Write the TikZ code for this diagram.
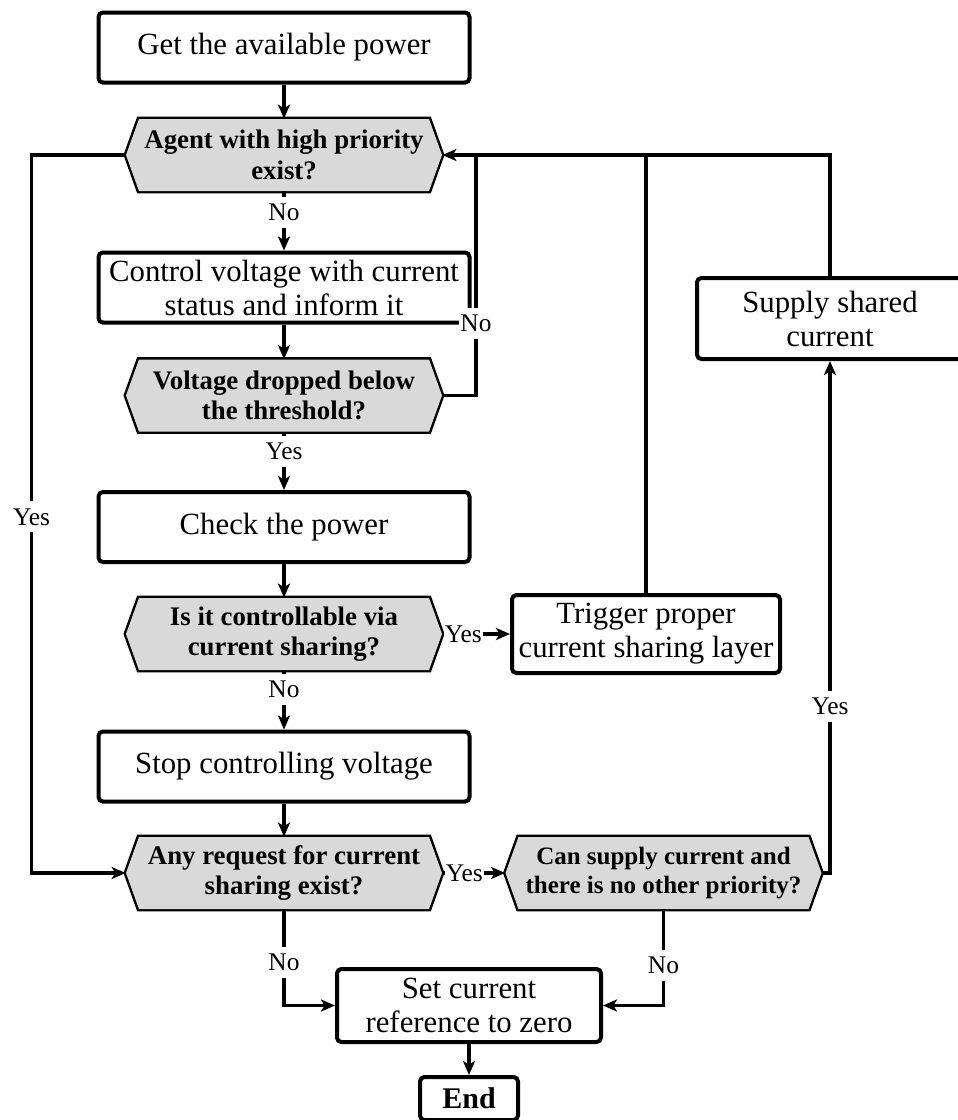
\documentclass[tikz,border=0pt]{standalone}
\usepackage{fontspec}
\setmainfont{Liberation Serif}
\usetikzlibrary{arrows.meta}
\definecolor{decfill}{HTML}{D9D9D9}

% text sizes used in the flowchart
\newcommand\fcBody{\fontsize{15.4pt}{17pt}\selectfont}
\newcommand\fcDec{\bfseries\fontsize{13.4pt}{15.2pt}\selectfont}
\newcommand\fcDecS{\bfseries\fontsize{12.5pt}{14.6pt}\selectfont}
\newcommand\fcLab{\fontsize{12.7pt}{14pt}\selectfont}
\newcommand\fcEnd{\bfseries\fontsize{15pt}{17pt}\selectfont}

\begin{document}
\begin{tikzpicture}[x=0.5pt,y=-0.5pt,
  line/.style={line width=1.7pt},
  arr/.style={line width=1.7pt,-{Stealth[length=7pt,width=6pt,inset=1.8pt]}},
  box/.style={draw,line width=2pt,rounded corners=2.2pt,align=center,inner sep=0pt,
    font=\fcBody,minimum width=185.5pt,minimum height=35pt},
  dec/.style={rectangle,inner sep=0pt,align=center,font=\fcDec,
    minimum width=158pt,minimum height=36pt,
    path picture={\fill[decfill] (path picture bounding box.west)
      -- ([xshift=6.5pt]path picture bounding box.north west)
      -- ([xshift=-6.5pt]path picture bounding box.north east)
      -- (path picture bounding box.east)
      -- ([xshift=-6.5pt]path picture bounding box.south east)
      -- ([xshift=6.5pt]path picture bounding box.south west) -- cycle;},
    append after command={\pgfextra{\draw[line width=2pt,line join=miter]
      (\tikzlastnode.west) -- ([xshift=6.5pt]\tikzlastnode.north west)
      -- ([xshift=-6.5pt]\tikzlastnode.north east) -- (\tikzlastnode.east)
      -- ([xshift=-6.5pt]\tikzlastnode.south east)
      -- ([xshift=6.5pt]\tikzlastnode.south west) -- cycle;}}},
  lab/.style={fill=white,inner xsep=0.6pt,inner ysep=3.5pt,font=\fcLab}
]
\useasboundingbox (0,0) rectangle (958,1120);

% main column
\node[box] (b1) at (284,47.5) {Get the available power};
\node[dec] (d1) at (284,155) {Agent with high priority\\exist?};
\node[box] (b2) at (284,287.5) {Control voltage with current\\status and inform it};
\node[dec] (d2) at (284,395.5) {Voltage dropped below\\the threshold?};
\node[box] (b3) at (284,527) {Check the power};
\node[dec] (d3) at (284,634) {Is it controllable via\\current sharing?};
\node[box] (b4) at (284,766.5) {Stop controlling voltage};
\node[dec] (d4) at (284,873) {Any request for current\\sharing exist?};

% right-hand branch
\node[dec,font=\fcDecS] (d5) at (663.5,873) {Can supply current and\\there is no other priority?};
\node[box,minimum width=134pt,minimum height=39pt] (trg) at (646,634) {Trigger proper\\current sharing layer};
\node[box,minimum width=133pt,minimum height=40.5pt] (sup) at (830,318.5) {Supply shared\\current};

% ending
\node[box,minimum width=132pt,minimum height=36.5pt] (set) at (469,1005.5) {Set current\\reference to zero};
\node[box,minimum width=49pt,minimum height=21.5pt,font=\fcEnd] (end) at (469,1098.5) {End};

% junctions on the feedback line
\coordinate (j1) at (476,155);
\coordinate (j2) at (646,155);

% main flow
\draw[arr] (b1) -- (d1);
\draw[arr] (d1) -- node[lab,pos=0.35]{No} (b2);
\draw[arr] (b2) -- (d2);
\draw[arr] (d2) -- node[lab,pos=0.33]{Yes} (b3);
\draw[arr] (b3) -- (d3);
\draw[arr] (d3) -- node[lab,pos=0.32]{No} (b4);
\draw[arr] (b4) -- (d4);
\draw[arr] (d3.east) -- node[lab,pos=0.31]{Yes} (trg.west);
\draw[arr] (d4.east) -- node[lab,pos=0.35]{Yes} (d5.west);

% feedback to the priority check
\draw[arr] (sup.north) |- (d1.east);
\draw[line] (trg.north) -- (j2);
\draw[line] (d2.east) -| node[lab,pos=0.65]{No} (j1);
\draw[arr] (d5.east) -| node[lab,pos=0.663]{Yes} (sup.south);
\draw[arr] (d1.west) -- ++(-94,0) |- node[lab,pos=0.252]{Yes} (d4.west);

% towards the end
\draw[arr] (d4.south) |- node[lab,pos=0.276]{No} (set.west);
\draw[arr] (d5.south) |- node[lab,pos=0.29]{No} (set.east);
\draw[arr] (set) -- (end);
\end{tikzpicture}
\end{document}
